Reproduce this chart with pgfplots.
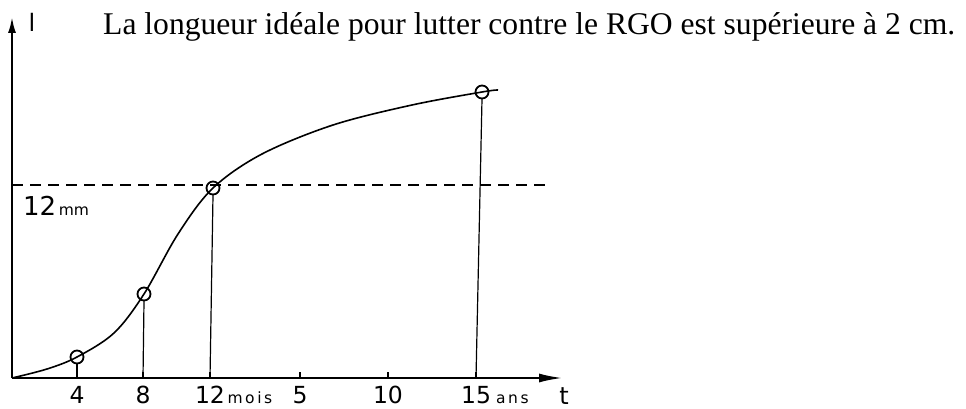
\documentclass[border=0pt]{standalone}
\usepackage{fontspec}
\setmainfont{Liberation Serif}
\newfontfamily\sans{DejaVu Sans}
\usepackage{pgfplots}
\pgfplotsset{compat=1.18}
\usetikzlibrary{arrows.meta}
\begin{document}
\begin{tikzpicture}
\useasboundingbox (0,0) rectangle (966pt,408pt);
\begin{axis}[
  at={(12pt,30pt)}, anchor=south west,
  x=1pt, y=1pt,
  xmin=0, xmax=551, ymin=0, ymax=361,
  enlargelimits=false,
  clip=false,
  axis lines=left,
  x axis line style={line width=2.4pt, -{Latex[length=24pt,width=9pt]}},
  y axis line style={line width=2.2pt, -{Latex[length=16pt,width=8pt]}},
  xtick={65,131,198,288,376,464},
  xticklabels={4,8,12\rlap{\fontsize{15.5}{16}\selectfont\,m\,o\,i\,s},5,10,15\rlap{\fontsize{15.5}{16}\selectfont\,\,a\,n\,s}},
  xticklabel style={anchor=base, yshift=-25pt, font=\sans\fontsize{23.5}{24}\selectfont},
  tick align=inside, xtick pos=bottom,
  major tick length=6pt,
  tick style={line width=1.5pt, black},
  ytick=\empty,
]
% reference level 12 mm
\addplot[black, line width=2.5pt, dash pattern=on 11pt off 7pt] coordinates {(0,193) (536,193)};
% drop lines
\addplot[black, line width=1.2pt] coordinates {(65,0) (65,14)};
\addplot[black, line width=1.2pt] coordinates {(131,0) (132,77)};
\addplot[black, line width=1.2pt] coordinates {(198,0) (201,183)};
\addplot[black, line width=1.2pt] coordinates {(464,0) (470,279)};
% growth curve
\addplot[black, line width=1.6pt, smooth, tension=0.55] coordinates {
  (0,0) (35,9) (65,21) (102,45) (132,84)
  (166,144) (201,190)
  (250,224) (321,253) (400,273) (470,286) (486,288)};
% measured points
\addplot[black, only marks, mark=o, mark size=6.5pt, mark options={line width=1.8pt}]
  coordinates {(65,21) (132,84) (201,190) (470,286)};
\node[anchor=base west, font=\sans\fontsize{26}{26}\selectfont, inner sep=0pt]
  at (axis cs:11,163) {12\fontsize{15.5}{16}\selectfont\,mm};
\end{axis}
\node[anchor=base west, inner sep=0pt, font=\fontsize{31.6}{33}\selectfont]
  at (103pt,373pt) {La longueur idéale pour lutter contre le RGO est supérieure à 2 cm.};
\node[anchor=base, inner sep=0pt, font=\sans\fontsize{24}{24}\selectfont] at (32pt,376pt) {l};
\node[anchor=base, inner sep=0pt, font=\sans\fontsize{24}{24}\selectfont] at (564pt,4pt) {t};
\end{tikzpicture}
\end{document}
